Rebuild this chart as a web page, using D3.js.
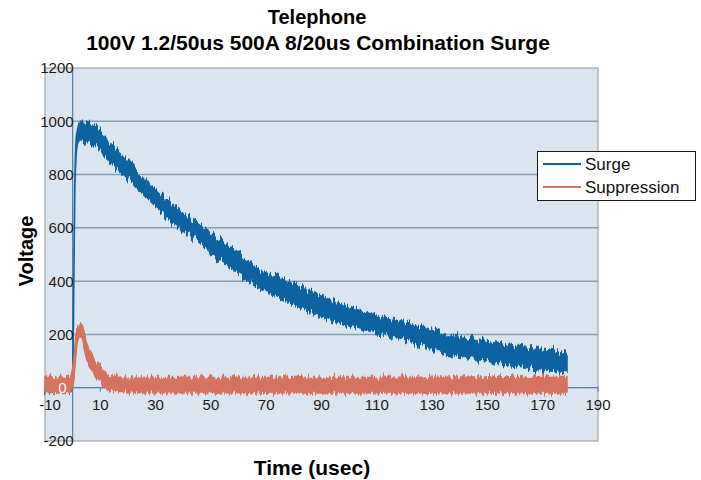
<!DOCTYPE html>
<html>
<head>
<meta charset="utf-8">
<script src="https://cdn.jsdelivr.net/npm/d3@7/dist/d3.min.js"></script>
<style>
  html, body { margin: 0; padding: 0; background: #ffffff; }
  svg { display: block; font-family: "Liberation Sans", Arial, sans-serif; }
</style>
</head>
<body>
<svg id="chart" width="701" height="480"></svg>
<script>
// ---- data (envelope of the noisy traces) ----
const titleLines = ["Telephone", "100V 1.2/50us 500A 8/20us Combination Surge"];
const xTitle = "Time (usec)";
const yTitle = "Voltage";
const seriesNames = ["Surge", "Suppression"];

const xTicks = [-10, 10, 30, 50, 70, 90, 110, 130, 150, 170, 190];
const yTicks = [-200, 0, 200, 400, 600, 800, 1000, 1200];

const surgeTime = [-10, -5, -0.1, 0.3, 0.8, 1.5, 2.5, 5, 7.5, 13.5, 19.5, 25.5, 31.5, 37.5, 43.5, 50, 57, 63, 69, 75, 81, 87, 93, 99, 105, 111, 117, 123, 129, 137.5, 150, 162, 174, 178.8];
const surgeHigh = [12, 12, 12, 300, 790, 960, 1000, 1000, 985, 916, 860, 790, 730, 678, 628, 580, 527, 480, 437, 410, 388, 358, 330, 306, 286, 269, 253, 235, 221, 198, 173, 154, 138, 124];
const surgeLow  = [-12, -12, -12, 250, 740, 900, 935, 922, 912, 846, 790, 729, 666, 610, 565, 507, 450, 405, 368, 336, 306, 281, 256, 236, 218, 204, 191, 167, 150, 124, 99, 76, 62, 57];

const suppTime = [-10, -1, -0.2, 0.5, 1.2, 2, 3.4, 5.1, 7.4, 9.9, 12.3, 17, 30, 60, 100, 140, 178.8];
const suppHigh = [42, 42, 58, 120, 200, 232, 232, 166, 116, 78, 54, 40, 38, 38, 38, 40, 42];
const suppLow  = [-18, -18, -8, 42, 122, 182, 176, 106, 58, 21, -6, -14, -19, -20, -20, -20, -20];

// ---- layout ----
const svg = d3.select("#chart");
const plot = {x0: 45, x1: 598, y0: 68, y1: 441};
const x = d3.scaleLinear().domain([-10, 190]).range([plot.x0, plot.x1]);
const y = d3.scaleLinear().domain([-200, 1200]).range([plot.y1, plot.y0]);

const colors = {surge: "#0b63a1", supp: "#d5735f"};

// vertical jitter filter to render the measurement noise texture
const defs = svg.append("defs");
function jitter(id, seed, freq, scale) {
  const f = defs.append("filter").attr("id", id)
    .attr("filterUnits", "userSpaceOnUse")
    .attr("x", 0).attr("y", 0).attr("width", 701).attr("height", 480);
  f.append("feTurbulence").attr("type", "fractalNoise")
    .attr("baseFrequency", freq).attr("numOctaves", 2).attr("seed", seed).attr("result", "n");
  f.append("feColorMatrix").attr("in", "n").attr("type", "matrix")
    .attr("values", "0 0 0 0 0.5  1 0 0 0 0  0 0 0 0 0  0 0 0 0 1").attr("result", "m");
  f.append("feDisplacementMap").attr("in", "SourceGraphic").attr("in2", "m")
    .attr("scale", scale).attr("xChannelSelector", "R").attr("yChannelSelector", "G");
}
jitter("jagA", 3, "0.45 0.01", 16);
jitter("jagB", 11, "0.45 0.01", 12);

svg.append("rect").attr("width", 701).attr("height", 480).attr("fill", "#ffffff");

// plot area
svg.append("rect")
  .attr("x", plot.x0).attr("y", plot.y0)
  .attr("width", plot.x1 - plot.x0).attr("height", plot.y1 - plot.y0)
  .attr("fill", "#dae5ef").attr("stroke", "#a3a3a3").attr("stroke-width", 1.2);

// gridlines
svg.append("g").selectAll("line")
  .data(yTicks.filter(v => v > 0 && v < 1200))
  .join("line")
  .attr("x1", x(0)).attr("x2", plot.x1)
  .attr("y1", d => y(d)).attr("y2", d => y(d))
  .attr("stroke", "#839fb9").attr("stroke-width", 1.5);

// axis lines (cross at 0)
svg.append("line")
  .attr("x1", plot.x0).attr("x2", plot.x1)
  .attr("y1", y(0)).attr("y2", y(0))
  .attr("stroke", "#4a7fb1").attr("stroke-width", 1.2);
svg.append("line")
  .attr("x1", x(0)).attr("x2", x(0))
  .attr("y1", plot.y0).attr("y2", plot.y1)
  .attr("stroke", "#4a7fb1").attr("stroke-width", 1.2);
svg.append("g").selectAll("line")
  .data(xTicks)
  .join("line")
  .attr("x1", d => x(d)).attr("x2", d => x(d))
  .attr("y1", y(0)).attr("y2", y(0) + 4)
  .attr("stroke", "#4a7fb1").attr("stroke-width", 1);

// series bands
function band(times, hi, lo) {
  return d3.area()
    .curve(d3.curveMonotoneX)
    .x((d, i) => x(times[i]))
    .y0((d, i) => y(lo[i]))
    .y1((d, i) => y(hi[i]))(times);
}
svg.append("path")
  .attr("d", band(surgeTime, surgeHigh, surgeLow))
  .attr("fill", colors.surge).attr("stroke", colors.surge).attr("stroke-width", 1.5)
  .attr("stroke-linejoin", "round")
  .attr("filter", "url(#jagA)");
svg.append("path")
  .attr("d", band(suppTime, suppHigh, suppLow))
  .attr("fill", colors.supp).attr("stroke", colors.supp).attr("stroke-width", 1.5)
  .attr("stroke-linejoin", "round")
  .attr("filter", "url(#jagB)");

// y tick labels
svg.append("g").selectAll("text")
  .data(yTicks.filter(v => v !== 0))
  .join("text")
  .attr("x", x(0) + 1).attr("y", d => y(d)).attr("dy", "0.36em")
  .attr("text-anchor", "end").attr("font-size", 15).attr("fill", "#1a1a1a")
  .text(d => d);
// zero label drawn in white over the trace
svg.append("text")
  .attr("x", x(0) - 6).attr("y", y(0)).attr("dy", "0.36em")
  .attr("text-anchor", "end").attr("font-size", 15).attr("fill", "#ffffff")
  .text(yTicks[1]);

// x tick labels
svg.append("g").selectAll("text")
  .data(xTicks)
  .join("text")
  .attr("x", d => x(d) + (d === -10 ? 5 : 0)).attr("y", y(0) + 22)
  .attr("text-anchor", "middle").attr("font-size", 15).attr("fill", "#1a1a1a")
  .text(d => d);

// titles
svg.append("text").attr("x", 317).attr("y", 24)
  .attr("text-anchor", "middle").attr("font-size", 20).attr("font-weight", "bold")
  .text(titleLines[0]);
svg.append("text").attr("x", 318).attr("y", 50)
  .attr("text-anchor", "middle").attr("font-size", 21).attr("font-weight", "bold")
  .text(titleLines[1]);
svg.append("text").attr("x", 312).attr("y", 475)
  .attr("text-anchor", "middle").attr("font-size", 21).attr("font-weight", "bold")
  .text(xTitle);
svg.append("text")
  .attr("transform", "translate(33,251) rotate(-90)")
  .attr("text-anchor", "middle").attr("font-size", 20).attr("font-weight", "bold")
  .text(yTitle);

// legend
const lg = svg.append("g");
lg.append("rect").attr("x", 537.5).attr("y", 151.5).attr("width", 158).attr("height", 49)
  .attr("fill", "#ffffff").attr("stroke", "#1a1a1a").attr("stroke-width", 1);
[colors.surge, colors.supp].forEach((c, i) => {
  const cy = 164 + i * 23;
  lg.append("line").attr("x1", 543).attr("x2", 581).attr("y1", cy).attr("y2", cy)
    .attr("stroke", c).attr("stroke-width", 2);
  lg.append("text").attr("x", 585).attr("y", cy).attr("dy", "0.36em")
    .attr("font-size", 17).attr("fill", "#111")
    .text(seriesNames[i]);
});
</script>
</body>
</html>
